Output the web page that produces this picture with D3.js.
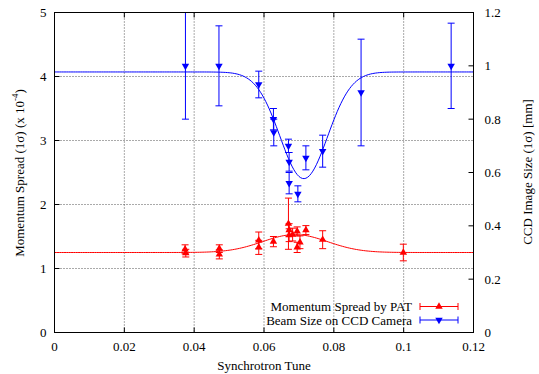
<!DOCTYPE html>
<html>
<head>
<meta charset="utf-8">
<script src="https://cdn.jsdelivr.net/npm/d3@7"></script>
<style>
  body { margin: 0; background: #fff; }
  svg { font-family: "Liberation Serif", "Times New Roman", serif; font-size: 13px; }
</style>
</head>
<body>
<svg id="chart" width="539" height="374"></svg>
<script>
// Momentum spread measured by PAT (left axis, units of 1e-4)
const patTune   = [0.0374, 0.0376, 0.0472, 0.0472, 0.0585, 0.0585, 0.0627, 0.0670, 0.0672, 0.0672, 0.0682, 0.0695, 0.0695, 0.0703, 0.0720, 0.0768, 0.0999];
const patSpread = [1.30, 1.24, 1.31, 1.22, 1.44, 1.33, 1.42, 1.70, 1.60, 1.52, 1.53, 1.58, 1.33, 1.41, 1.60, 1.45, 1.25];
const patError  = [0.07, 0.06, 0.06, 0.07, 0.13, 0.11, 0.08, 0.40, 0.10, 0.10, 0.10, 0.07, 0.08, 0.10, 0.07, 0.14, 0.13];

// Beam size on the CCD camera (right axis, mm)
const ccdTune  = [0.0375, 0.0471, 0.0585, 0.0627, 0.0628, 0.0670, 0.0672, 0.0672, 0.0697, 0.0720, 0.0768, 0.0878, 0.1136];
const ccdSize  = [1.00, 1.00, 0.93, 0.80, 0.75, 0.70, 0.64, 0.56, 0.52, 0.655, 0.68, 0.90, 1.00];
const ccdError = [0.20, 0.15, 0.05, 0.04, 0.05, 0.025, 0.035, 0.04, 0.03, 0.045, 0.06, 0.20, 0.16];

// Gaussian fits through each set: [baseline, amplitude, centre, sigma]
const patFit = [1.25, 0.28, 0.0689, 0.0093];
const ccdFit = [0.977, -0.40, 0.0714, 0.0068];

const xTicks  = [0, 0.02, 0.04, 0.06, 0.08, 0.1, 0.12];
const yTicks  = [0, 1, 2, 3, 4, 5];
const y2Ticks = [0, 0.2, 0.4, 0.6, 0.8, 1, 1.2];

const RED = "#ff0000", BLUE = "#0000ff";

const svg = d3.select("#chart");
// frame edges (half pixels keep 1px lines crisp)
const fLeft = 54.5, fRight = 473.5, fTop = 12.5, fBottom = 332.5;

const x  = d3.scaleLinear().domain([0, 0.12]).range([fLeft, fRight]);
const y  = d3.scaleLinear().domain([0, 5]).range([fBottom, fTop]);
const y2 = d3.scaleLinear().domain([0, 1.2]).range([fBottom, fTop]);

svg.append("clipPath").attr("id", "plot")
  .append("rect")
  .attr("x", fLeft).attr("y", fTop)
  .attr("width", fRight - fLeft).attr("height", fBottom - fTop);

// Dotted grid at the inner ticks
const grid = svg.append("g")
  .attr("stroke", "#555").attr("stroke-width", 1).attr("stroke-dasharray", "1,2");
xTicks.slice(1, -1).forEach((t) => {
  grid.append("line").attr("x1", x(t)).attr("x2", x(t)).attr("y1", fTop).attr("y2", fBottom);
});
yTicks.slice(1, -1).forEach((t) => {
  grid.append("line").attr("x1", fLeft).attr("x2", fRight).attr("y1", y(t)).attr("y2", y(t));
});

// Inward ticks on all sides
const ticks = svg.append("g").attr("stroke", "#000").attr("stroke-width", 1);
const tl = 5;
xTicks.forEach((t) => {
  ticks.append("line").attr("x1", x(t)).attr("x2", x(t)).attr("y1", fBottom).attr("y2", fBottom - tl);
  ticks.append("line").attr("x1", x(t)).attr("x2", x(t)).attr("y1", fTop).attr("y2", fTop + tl);
});
yTicks.forEach((t) => {
  ticks.append("line").attr("x1", fLeft).attr("x2", fLeft + tl).attr("y1", y(t)).attr("y2", y(t));
});
y2Ticks.forEach((t) => {
  ticks.append("line").attr("x1", fRight).attr("x2", fRight - tl).attr("y1", y2(t)).attr("y2", y2(t));
});

// Tick labels
svg.append("g").selectAll("text").data(xTicks).join("text")
  .attr("x", (d) => x(d)).attr("y", fBottom + 14).attr("dy", "0.35em")
  .attr("text-anchor", "middle").text((d) => d);
svg.append("g").selectAll("text").data(yTicks).join("text")
  .attr("x", fLeft - 8).attr("y", (d) => y(d)).attr("dy", "0.35em")
  .attr("text-anchor", "end").text((d) => d);
svg.append("g").selectAll("text").data(y2Ticks).join("text")
  .attr("x", fRight + 11).attr("y", (d) => y2(d)).attr("dy", "0.35em")
  .attr("text-anchor", "start").text((d) => d);

// Axis titles
svg.append("text").attr("x", (fLeft + fRight) / 2).attr("y", 365).attr("dy", "0.35em")
  .attr("text-anchor", "middle").text("Synchrotron Tune");
const yt = svg.append("text").attr("transform", "translate(19,173) rotate(-90)")
  .attr("text-anchor", "middle").attr("dy", "0.35em");
yt.append("tspan").text("Momentum Spread (1σ) (x 10");
yt.append("tspan").attr("font-size", "9px").attr("dy", "-0.6em").text("-4");
yt.append("tspan").attr("dy", "0.42em").text(")");
svg.append("text").attr("transform", "translate(527,172) rotate(-90)")
  .attr("text-anchor", "middle").attr("dy", "0.35em")
  .text("CCD Image Size (1σ) [mm]");

// Plot contents, clipped to the frame
const plot = svg.append("g").attr("clip-path", "url(#plot)");

function gauss(p) {
  return (t) => p[0] + p[1] * Math.exp(-((t - p[2]) ** 2) / (2 * p[3] * p[3]));
}

function drawSet(tune, vals, errs, fit, scale, color, up) {
  const g = plot.append("g").attr("stroke", color).attr("fill", color);
  const f = gauss(fit);
  const line = d3.line().x((t) => x(t)).y((t) => scale(f(t)));
  g.append("path").attr("fill", "none").attr("stroke-width", 1)
    .attr("d", line(d3.range(0, 0.1205, 0.0005)));

  const sym = d3.symbol(d3.symbolTriangle, 24);
  tune.forEach((t, i) => {
    const cx = x(t), lo = scale(vals[i] - errs[i]), hi = scale(vals[i] + errs[i]);
    g.append("line").attr("x1", cx).attr("x2", cx).attr("y1", lo).attr("y2", hi);
    g.append("line").attr("x1", cx - 3.5).attr("x2", cx + 3.5).attr("y1", lo).attr("y2", lo);
    g.append("line").attr("x1", cx - 3.5).attr("x2", cx + 3.5).attr("y1", hi).attr("y2", hi);
    g.append("path").attr("stroke", "none").attr("d", sym())
      .attr("transform", `translate(${cx},${scale(vals[i])})` + (up ? "" : " rotate(180)"));
  });
}

drawSet(ccdTune, ccdSize, ccdError, ccdFit, y2, BLUE, false);
drawSet(patTune, patSpread, patError, patFit, y, RED, true);

// Legend, lower right inside the frame
const legend = [
  { label: "Momentum Spread by PAT", color: RED, up: true },
  { label: "Beam Size on CCD Camera", color: BLUE, up: false }
];
legend.forEach((d, i) => {
  const ly = 306.5 + i * 13.5;
  svg.append("text").attr("x", 412).attr("y", ly).attr("dy", "0.35em")
    .attr("text-anchor", "end").text(d.label);
  const g = svg.append("g").attr("stroke", d.color).attr("fill", d.color);
  g.append("line").attr("x1", 420).attr("x2", 458).attr("y1", ly).attr("y2", ly);
  g.append("line").attr("x1", 420).attr("x2", 420).attr("y1", ly - 3.5).attr("y2", ly + 3.5);
  g.append("line").attr("x1", 458).attr("x2", 458).attr("y1", ly - 3.5).attr("y2", ly + 3.5);
  g.append("path").attr("stroke", "none").attr("d", d3.symbol(d3.symbolTriangle, 24)())
    .attr("transform", `translate(439,${ly})` + (d.up ? "" : " rotate(180)"));
});

// Frame
svg.append("rect").attr("x", fLeft).attr("y", fTop)
  .attr("width", fRight - fLeft).attr("height", fBottom - fTop)
  .attr("fill", "none").attr("stroke", "#000").attr("stroke-width", 1);
</script>
</body>
</html>
